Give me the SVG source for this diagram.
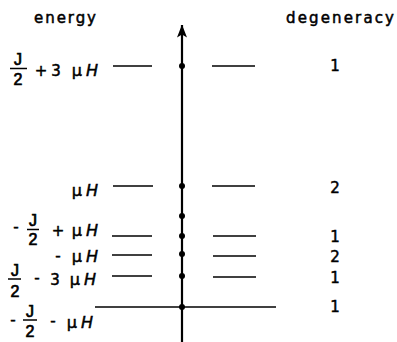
<svg xmlns="http://www.w3.org/2000/svg" width="397" height="342" viewBox="0 0 397 342">
<style>
text{font-family:"DejaVu Sans","Liberation Sans",sans-serif;font-size:15px;fill:#000;stroke:#000;stroke-width:0.5}
.fr{font-family:"Liberation Sans",sans-serif;font-size:16px;text-anchor:middle;stroke-width:0.7}
.mh{font-size:16px;text-anchor:end}
.m{text-anchor:middle}
.it{font-style:italic}
.lv{stroke:#000;stroke-width:1.6;fill:none}
.bar{stroke:#000;stroke-width:1.5}
</style>
<defs>
<marker id="ah" viewBox="0 0 13 10" refX="12.5" refY="5" markerWidth="13" markerHeight="10" markerUnits="userSpaceOnUse" orient="auto">
<path d="M0,0 L13,5 L0,10 L3,5 Z" fill="#000"/>
</marker>
</defs>
<g id="headers">
<text x="65" y="23" class="m" textLength="62" lengthAdjust="spacing">energy</text>
<text x="340" y="23" class="m" textLength="108" lengthAdjust="spacing">degeneracy</text>
</g>
<g id="connectors">
<line x1="182" y1="342" x2="182" y2="25" stroke="#000" stroke-width="2.2" marker-end="url(#ah)"/>
<line class="lv" x1="95" y1="307" x2="276" y2="307"/>
</g>
<g id="level1">
<text class="fr" x="18" y="65">J</text><line class="bar" x1="10" y1="68.5" x2="27" y2="68.5"/><text class="fr" x="18" y="85">2</text>
<text x="41" y="76" class="m">+</text>
<text x="56" y="76" class="m">3</text>
<text x="98" y="76" class="mh">μ<tspan dx="4" class="it">H</tspan></text>
<line class="lv" x1="113" y1="66" x2="152" y2="66"/>
<circle cx="182" cy="66" r="3"/>
<line class="lv" x1="212" y1="66" x2="255" y2="66"/>
<text x="335" y="71" class="m">1</text>
</g>
<g id="level2">
<text x="98" y="196" class="mh">μ<tspan dx="4" class="it">H</tspan></text>
<line class="lv" x1="113" y1="186" x2="153" y2="186"/>
<circle cx="182" cy="186" r="3"/>
<line class="lv" x1="212" y1="186" x2="255" y2="186"/>
<text x="335" y="193" class="m">2</text>
</g>
<g id="level3">
<circle cx="182" cy="216" r="3"/>
</g>
<g id="level4">
<text x="16" y="232" class="m">-</text>
<text class="fr" x="33" y="226">J</text><line class="bar" x1="27" y1="229.5" x2="39" y2="229.5"/><text class="fr" x="33" y="245">2</text>
<text x="58" y="236" class="m">+</text>
<text x="98" y="236" class="mh">μ<tspan dx="4" class="it">H</tspan></text>
<line class="lv" x1="112" y1="236" x2="152" y2="236"/>
<circle cx="182" cy="236" r="3"/>
<line class="lv" x1="213" y1="236" x2="256" y2="236"/>
<text x="335" y="242" class="m">1</text>
</g>
<g id="level5">
<text x="58" y="261" class="m">-</text>
<text x="98" y="262" class="mh">μ<tspan dx="4" class="it">H</tspan></text>
<line class="lv" x1="112" y1="255" x2="152" y2="255"/>
<circle cx="182" cy="254" r="3"/>
<line class="lv" x1="213" y1="256" x2="256" y2="256"/>
<text x="335" y="262" class="m">2</text>
</g>
<g id="level6">
<text class="fr" x="15" y="276">J</text><line class="bar" x1="8" y1="279" x2="21" y2="279"/><text class="fr" x="15" y="297">2</text>
<text x="37" y="283" class="m">-</text>
<text x="55" y="285" class="m">3</text>
<text x="96" y="285" class="mh">μ<tspan dx="4" class="it">H</tspan></text>
<line class="lv" x1="112" y1="276" x2="152" y2="276"/>
<circle cx="182" cy="276" r="3"/>
<line class="lv" x1="213" y1="277" x2="256" y2="277"/>
<text x="335" y="283" class="m">1</text>
</g>
<g id="level7">
<text x="13" y="325" class="m">-</text>
<text class="fr" x="30" y="317">J</text><line class="bar" x1="23" y1="320" x2="37" y2="320"/><text class="fr" x="30" y="337">2</text>
<text x="53" y="326" class="m">-</text>
<text x="93" y="328" class="mh">μ<tspan dx="4" class="it">H</tspan></text>
<circle cx="182" cy="307" r="3"/>
<text x="335" y="312" class="m">1</text>
</g>
</svg>
